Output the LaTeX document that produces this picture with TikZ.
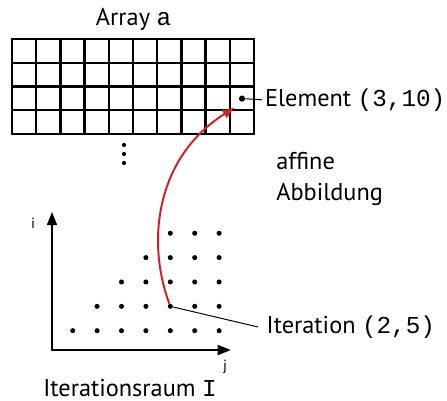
\documentclass[tikz,border=0pt]{standalone}
\usepackage{fontspec}
\setmainfont{PT Sans}
\setmonofont{Liberation Mono}
\usepackage{tikz}
\usetikzlibrary{arrows.meta,positioning}
\definecolor{mapred}{RGB}{208,32,42}

\begin{document}
\begin{tikzpicture}[
  font=\fontsize{17.3}{21.5}\selectfont,
  gridline/.style={line width=1.6pt},
  pt/.style={circle, fill, inner sep=0pt, minimum size=3.6pt},
  lead/.style={line width=0.7pt},
  lbl/.style={anchor=west, inner ysep=1pt},
  axlbl/.style={font=\fontsize{10.5}{12}\selectfont},
  axis/.style={{Triangle[length=9.5pt,width=7pt]}-{Triangle[length=9.5pt,width=7pt]}, line width=1.7pt},
  maparr/.style={-{Latex[length=9pt,width=7pt]}, line width=1.4pt, mapred}
]
\useasboundingbox (0,0) rectangle (11.175,10.025);
% array a
\draw[gridline] (0.3,6.675) rectangle (6.35,9.05);
\foreach \k in {1,...,9}
  \draw[gridline] ({0.3+0.605*\k},6.675) -- ++(0,2.375);
\foreach \k in {1,...,3}
  \draw[gridline] (0.3,{6.675+0.59375*\k}) -- ++(6.05,0);
\node (title) at (3.34,9.53) {Array \texttt{a}};
\foreach \y in {6.4,6.175,5.95}
  \fill (3.1,\y) circle (1.5pt);
\node[pt, minimum size=4.4pt] (elem) at (6.05,7.56) {};
\node[lbl, inner xsep=2pt] (elemtxt) at (6.55,7.53) {Element \texttt{(3,10)}};
\draw[lead] (elem) -- (elemtxt.west);
\coordinate (elemtip) at (5.875,7.34);
% iteration space
\coordinate (itop) at (1.3,4.73);
\coordinate (jend) at (5.775,1.275);
\draw[axis] (itop) |- (jend);
\node[axlbl] (ilbl) at (0.83,4.45) {i};
\node[axlbl] (jlbl) at (5.63,0.85) {j};
\foreach \r in {1,...,5}
  \foreach \c in {\r,...,7}
    \node[pt] (d\r\c) at ({1.8175+0.61*(\c-1)},{1.7575+0.609*(\r-1)}) {};
\node[lbl, inner xsep=6pt] (itertxt) at (6.45,1.85) {Iteration \texttt{(2,5)}};
\draw[lead] (d25) -- (itertxt.west);
\node (raum) at (3.25,0.33) {Iterationsraum \texttt{I}};
% affine mapping
\node[align=left, anchor=west, inner sep=0pt] (abb) at (6.9,5.55) {affine\\Abbildung};
\draw[maparr] (d25) .. controls (3.65,4.0) and (3.9,6.1) .. (elemtip);
\end{tikzpicture}
\end{document}
